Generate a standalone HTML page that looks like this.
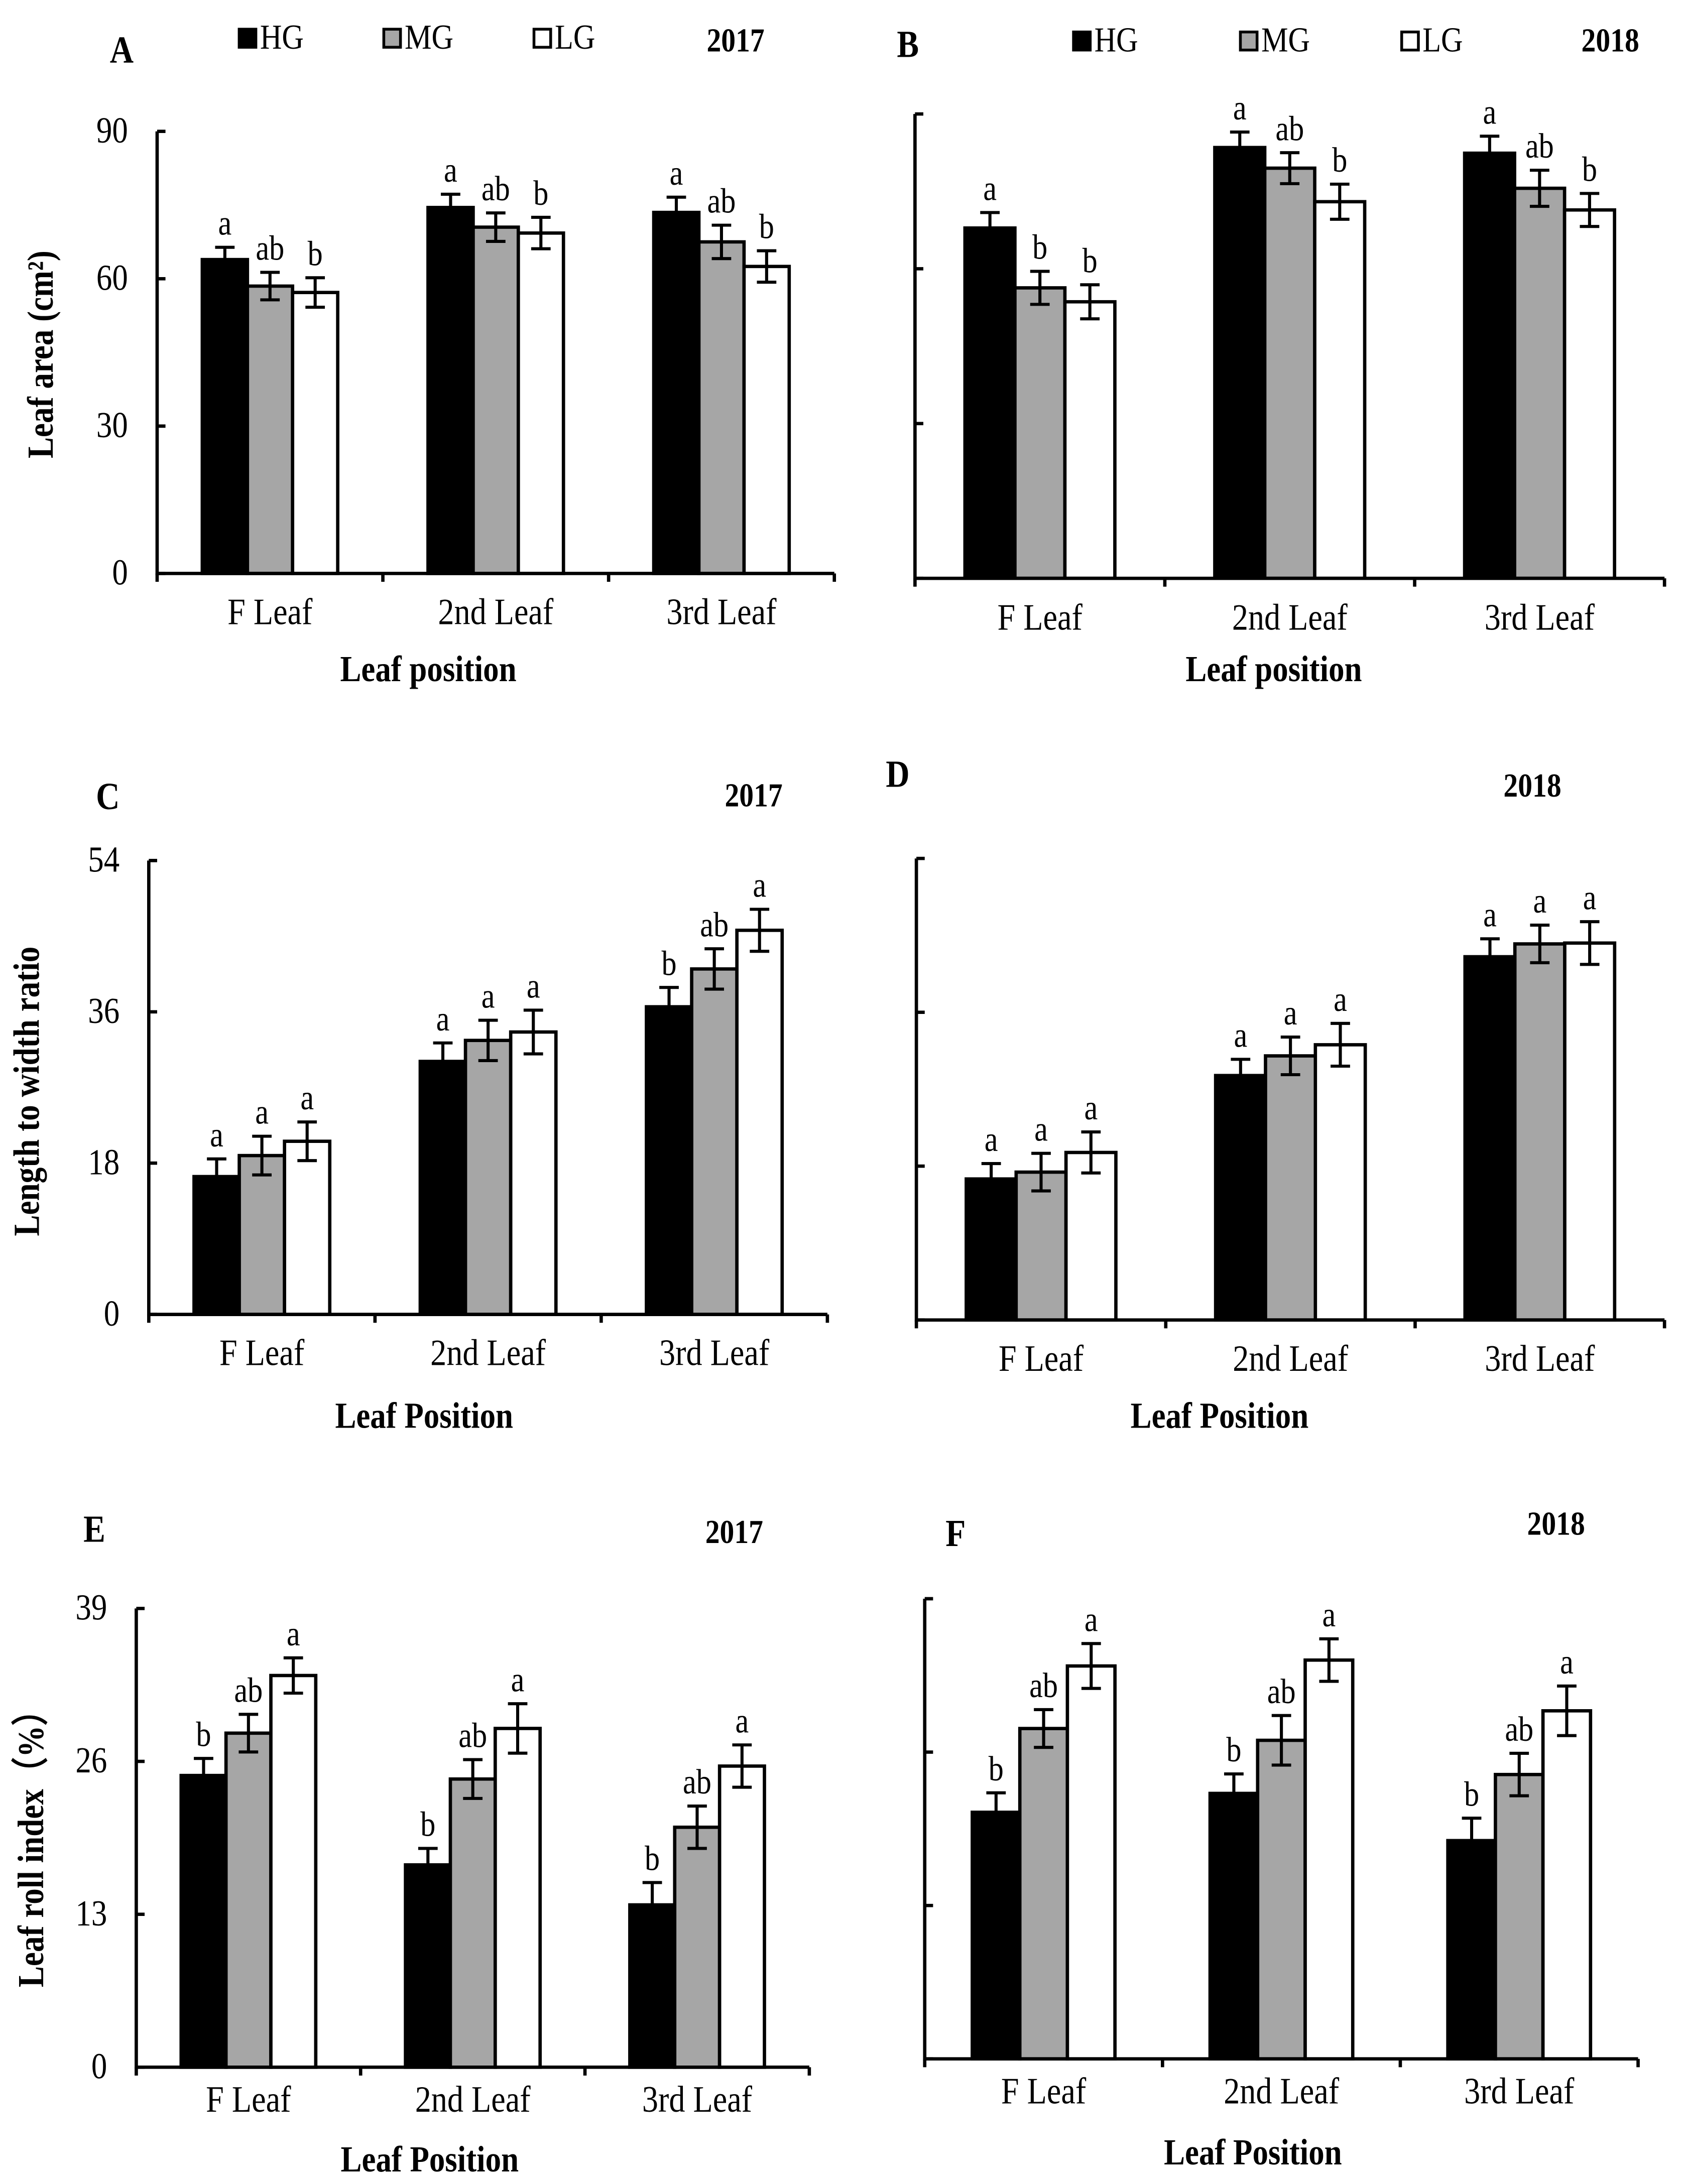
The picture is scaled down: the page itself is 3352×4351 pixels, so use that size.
<!DOCTYPE html>
<html><head><meta charset="utf-8"><style>
html,body{margin:0;padding:0;background:#fff;}
svg{display:block;}
text{font-family:"Liberation Serif",serif;fill:#000;}
</style></head><body>
<svg id="fig" xmlns="http://www.w3.org/2000/svg" width="3352" height="4351" viewBox="0 0 1210.3 1571" preserveAspectRatio="none"></svg>
<script>
const categories = ["F Leaf", "2nd Leaf", "3rd Leaf"];
const series = ["HG", "MG", "LG"];
// Panel A leaf area 2017
const aHG = [63.9, 74.5, 73.5], aMG = [58.5, 70.5, 67.5], aLG = [57.2, 69.3, 62.5];
const aErr = [[2.5, 2.7, 3.1], [2.8, 2.9, 3.4], [3.0, 3.2, 3.2]];
const aSig = [["a","a","a"], ["ab","ab","ab"], ["b","b","b"]];
// Panel B leaf area 2018
const bHG = [67.9, 83.5, 82.4], bMG = [56.3, 79.5, 75.6], bLG = [53.6, 73.0, 71.4];
const bErr = [[3.0, 3.0, 3.3], [3.2, 3.0, 3.5], [3.3, 3.4, 3.2]];
const bSig = [["a","a","a"], ["b","ab","ab"], ["b","b","b"]];
// Panel C length/width 2017
const cHG = [16.4, 30.1, 36.6], cMG = [18.9, 32.6, 41.1], cLG = [20.6, 33.6, 45.7];
const cErr = [[2.1, 2.2, 2.3], [2.3, 2.4, 2.4], [2.3, 2.6, 2.5]];
const cSig = [["a","a","b"], ["a","a","ab"], ["a","a","a"]];
// Panel D length/width 2018
const dHG = [16.5, 28.6, 42.5], dMG = [17.3, 30.9, 44.0], dLG = [19.6, 32.2, 44.1];
const dErr = [[1.8, 1.9, 2.1], [2.2, 2.2, 2.2], [2.4, 2.5, 2.5]];
const dSig = [["a","a","a"], ["a","a","a"], ["a","a","a"]];
// Panel E leaf roll 2017
const eHG = [24.8, 17.2, 13.8], eMG = [28.4, 24.5, 20.4], eLG = [33.3, 28.8, 25.6];
const eErr = [[1.45, 1.4, 1.9], [1.6, 1.65, 1.8], [1.5, 2.1, 1.8]];
const eSig = [["b","b","b"], ["ab","ab","ab"], ["a","a","a"]];
// Panel F leaf roll 2018
const fHG = [20.9, 22.5, 18.5], fMG = [28.0, 27.0, 24.1], fLG = [33.3, 33.8, 29.5];
const fErr = [[1.65, 1.65, 1.9], [1.6, 2.1, 1.8], [1.9, 1.8, 2.1]];
const fSig = [["b","b","b"], ["ab","ab","ab"], ["a","a","a"]];
const ticksA = [0, 30, 60, 90];
const ticksC = [0, 18, 36, 54];
const ticksE = [0, 13, 26, 39];

const NS = "http://www.w3.org/2000/svg";
const svg = document.getElementById("fig");
const fills = ["#000000", "#a6a6a6", "#ffffff"];
function mk(tag, attrs, parent) {
  const e = document.createElementNS(NS, tag);
  for (const k in attrs) e.setAttribute(k, attrs[k]);
  (parent || svg).appendChild(e);
  return e;
}
function txt(s, x, y, size, opts, parent) {
  const t = mk("text", Object.assign({x: 0, y: 0, "font-size": size * 1.1, transform: `translate(${x},${y}) scale(0.86,1)`}, opts || {}), parent);
  t.textContent = s;
  return t;
}

function panel(cfg) {
  const g = mk("g", {});
  
  
  const x0 = cfg.x0, x1 = cfg.x1, yb = cfg.yb, yt = cfg.yt, max = cfg.ticks[cfg.ticks.length - 1];
  const yS = v => yb - (v / max) * (yb - yt);
  const W = (x1 - x0) / 3;
  const xS = (ci, si) => x0 + ci * W + W * 0.2 + si * W * 0.2;
  const vals = [cfg.hg, cfg.mg, cfg.lg];
  for (let si = 0; si < 3; si++) {
    for (let ci = 0; ci < 3; ci++) {
      const v = vals[si][ci];
      const r = mk("rect", {x: xS(ci, si), y: yS(v), width: W * 0.2, height: yb - yS(v), fill: fills[si], stroke: "#000", "stroke-width": 2.4}, g);
      
      
    }
  }
  for (let si = 0; si < 3; si++) {
    for (let ci = 0; ci < 3; ci++) {
      const v = vals[si][ci], e = cfg.err[si][ci];
      const cx = xS(ci, si) + W * 0.1;
      const eb = mk("path", {d: `M${cx - 7},${yS(v + e)}H${cx + 7}M${cx},${yS(v + e)}V${yS(v - e)}M${cx - 7},${yS(v - e)}H${cx + 7}`, stroke: "#000", "stroke-width": 2.2, fill: "none"}, g);
      
      
      const lt = txt(cfg.sig[si][ci], cx, yS(v + e) - 9, 23, {"text-anchor": "middle"}, g);
      
      
    }
  }
  const ax = mk("path", {d: `M${x0},${yt}V${yb}H${x1}`, stroke: "#000", "stroke-width": 2.4, fill: "none"}, g);
  
  
  for (const t of cfg.ticks) {
    mk("path", {d: `M${x0},${yS(t)}H${x0 + 6}`, stroke: "#000", "stroke-width": 2.4}, g);
    if (cfg.showTicks) {
      const tl = txt(String(t), x0 - 21, yS(t) + 8, 24, {"text-anchor": "end"}, g);
      
      
    }
  }
  for (let ci = 0; ci <= 3; ci++) {
    mk("path", {d: `M${x0 + ci * W},${yb}V${yb + 6}`, stroke: "#000", "stroke-width": 2.4}, g);
  }
  for (let ci = 0; ci < 3; ci++) {
    const cl = txt(categories[ci], x0 + (ci + 0.5) * W, cfg.catY, 24.5, {"text-anchor": "middle"}, g);
    
    
  }
  const xt = txt(cfg.xTitle, cfg.xTitleX, cfg.xTitleY, 24, {"text-anchor": "middle", "font-weight": "bold"}, g);
  
  
  if (cfg.yTitle) {
    const yt2 = mk("text", {x: 0, y: 0, "font-size": 24, "text-anchor": "middle", "font-weight": "bold", transform: `translate(${cfg.yTitleX},${cfg.yTitleY}) rotate(-90) scale(0.95,1.1)`}, g);
    yt2.textContent = cfg.yTitle;
    
    
  }
  const pl = txt(cfg.letter, cfg.letterX, cfg.letterY, 25, {"font-weight": "bold"}, g);
  
  
  const yr = txt(cfg.year, cfg.yearX, cfg.yearY, 22, {"font-weight": "bold", "text-anchor": "middle"}, g);
  
  
  if (cfg.legendX) {
    for (let si = 0; si < 3; si++) {
      const lx = cfg.legendX[si];
      const lg = mk("g", {}, g);
      
      
      mk("rect", {x: lx, y: cfg.legendY - 14, width: 12, height: 13, fill: fills[si], stroke: "#000", "stroke-width": 2}, lg);
      txt(series[si], lx + 15, cfg.legendY, 23, {}, lg);
    }
  }
}

panel({name: "panel-a", x0: 113, x1: 600, yt: 94.5, yb: 412.5, ticks: ticksA, showTicks: true,
  hg: aHG, mg: aMG, lg: aLG, err: aErr, sig: aSig, catY: 449, xTitle: "Leaf position", xTitleX: 308, xTitleY: 490,
  yTitle: "Leaf area (cm²)", yTitleX: 38, yTitleY: 255, letter: "A", letterX: 79, letterY: 45, year: "2017", yearX: 529, yearY: 37,
  legendX: [172, 276, 384], legendY: 35});
panel({name: "panel-b", x0: 658, x1: 1197, yt: 82, yb: 416, ticks: ticksA, showTicks: false,
  hg: bHG, mg: bMG, lg: bLG, err: bErr, sig: bSig, catY: 453, xTitle: "Leaf position", xTitleX: 916, xTitleY: 490,
  letter: "B", letterX: 645, letterY: 41, year: "2018", yearX: 1158, yearY: 37,
  legendX: [772, 892, 1008], legendY: 37});
panel({name: "panel-c", x0: 107, x1: 595, yt: 619, yb: 945.5, ticks: ticksC, showTicks: true,
  hg: cHG, mg: cMG, lg: cLG, err: cErr, sig: cSig, catY: 982, xTitle: "Leaf Position", xTitleX: 305, xTitleY: 1027,
  yTitle: "Length to width ratio", yTitleX: 28, yTitleY: 785, letter: "C", letterX: 69, letterY: 582, year: "2017", yearX: 542, yearY: 580});
panel({name: "panel-d", x0: 659, x1: 1197, yt: 617.5, yb: 949.5, ticks: ticksC, showTicks: false,
  hg: dHG, mg: dMG, lg: dLG, err: dErr, sig: dSig, catY: 986, xTitle: "Leaf Position", xTitleX: 877, xTitleY: 1027,
  letter: "D", letterX: 637, letterY: 566, year: "2018", yearX: 1102, yearY: 573});
panel({name: "panel-e", x0: 98, x1: 582, yt: 1157, yb: 1487, ticks: ticksE, showTicks: true,
  hg: eHG, mg: eMG, lg: eLG, err: eErr, sig: eSig, catY: 1519, xTitle: "Leaf Position", xTitleX: 309, xTitleY: 1562,
  yTitle: "Leaf roll index（%）", yTitleX: 31, yTitleY: 1324, letter: "E", letterX: 60, letterY: 1109, year: "2017", yearX: 528, yearY: 1110});
panel({name: "panel-f", x0: 665, x1: 1178, yt: 1150, yb: 1481, ticks: ticksE, showTicks: false,
  hg: fHG, mg: fMG, lg: fLG, err: fErr, sig: fSig, catY: 1513, xTitle: "Leaf Position", xTitleX: 901, xTitleY: 1557,
  letter: "F", letterX: 680, letterY: 1112, year: "2018", yearX: 1119, yearY: 1104});
</script>
</body></html>
